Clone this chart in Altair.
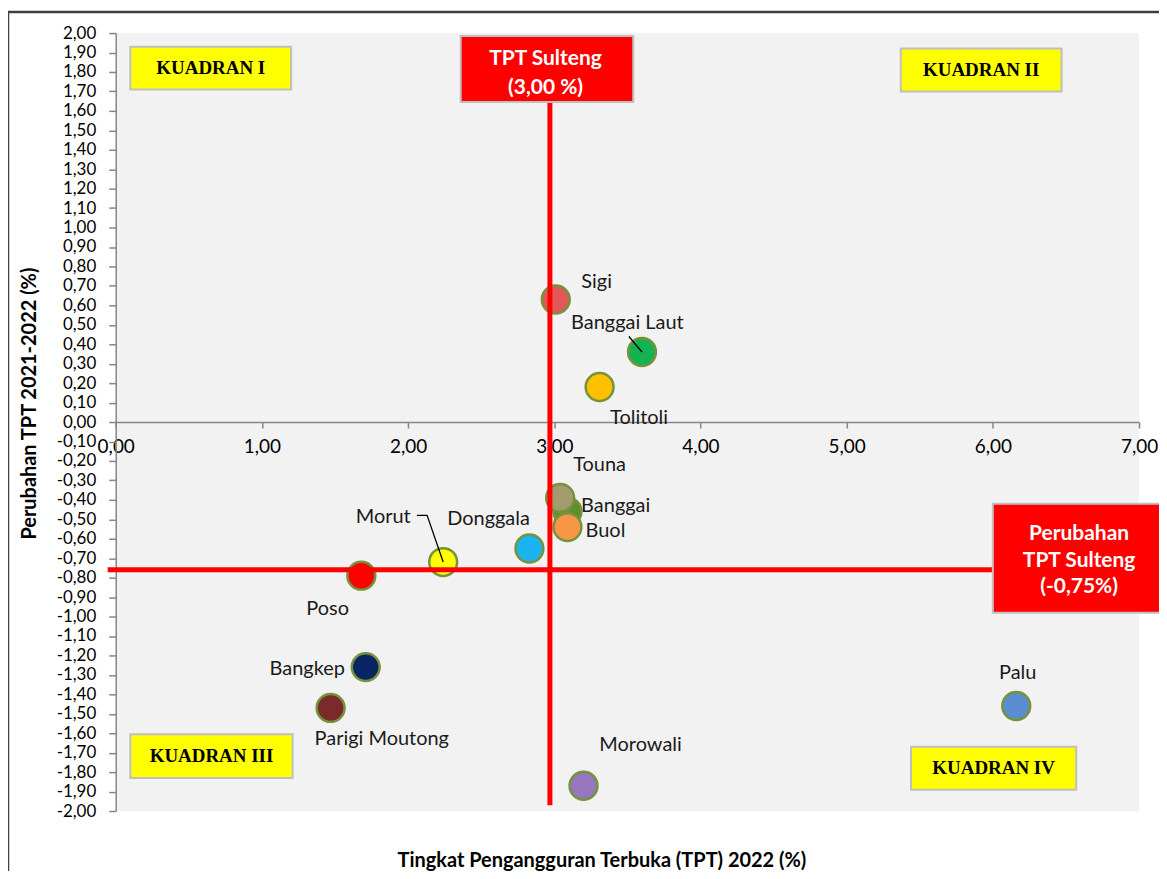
import altair as alt
import pandas as pd

# ---- data ----
names = ["Banggai", "Sigi", "Banggai Laut", "Tolitoli", "Touna", "Buol", "Donggala",
         "Morut", "Poso", "Bangkep", "Parigi Moutong", "Morowali", "Palu"]
tpt_2022 = [3.09, 3.01, 3.60, 3.31, 3.04, 3.09, 2.83, 2.24, 1.68, 1.71, 1.47, 3.20, 6.16]
change = [-0.46, 0.63, 0.36, 0.18, -0.39, -0.54, -0.65, -0.72, -0.79, -1.26, -1.47, -1.87, -1.46]
colors = ["#5F8F2C", "#E25858", "#14B250", "#FFC000", "#A39A6E", "#F79646", "#1CB4F0",
          "#FFFF00", "#FF0000", "#0A2563", "#7A2A2A", "#9677BE", "#5A8ED0"]

# label anchors (data units)
label_x = [3.42, 3.29, 3.50, 3.58, 3.31, 3.35, 2.55, 1.83, 1.45, 1.31, 1.82, 3.59, 6.17]
label_y = [-0.43, 0.72, 0.51, 0.02, -0.22, -0.56, -0.50, -0.49, -0.96, -1.27, -1.63, -1.66, -1.29]

# reference lines
tpt_sulteng = 2.97
chg_sulteng = -0.76

# quadrant boxes
quad_text = ["KUADRAN I", "KUADRAN II", "KUADRAN III", "KUADRAN IV"]
quad_x1 = [0.10, 5.37, 0.10, 5.44]
quad_x2 = [1.20, 6.47, 1.21, 6.57]
quad_y1 = [1.93, 1.92, -1.605, -1.67]
quad_y2 = [1.71, 1.70, -1.83, -1.89]

# red annotation boxes
red_x1 = [2.36, 6.00]
red_x2 = [3.54, 7.20]
red_y1 = [1.985, -0.42]
red_y2 = [1.645, -0.98]
red_lines = ["TPT Sulteng", "(3,00 %)", "Perubahan", "TPT Sulteng", "(-0,75%)"]
red_lines_x = [2.94, 2.94, 6.59, 6.59, 6.59]
red_lines_y = [1.865, 1.715, -0.575, -0.715, -0.85]

# leader lines
leader_id = ["bl", "bl", "mo", "mo", "mo"]
leader_x = [3.51, 3.60, 2.06, 2.13, 2.24]
leader_y = [0.44, 0.36, -0.48, -0.48, -0.72]
leader_ord = [0, 1, 0, 1, 2]

x_ticks = [0, 1, 2, 3, 4, 5, 6, 7]
y_ticks = [round(i * 0.1, 1) for i in range(-20, 21)]

FONT = "Lato"
fmt = "(datum.value < -0.0001 ? '-' : '') + replace(format(abs(datum.value), '.2f'), '.', ',')"

xs = alt.Scale(domain=[0, 7], nice=False, zero=False)
ys = alt.Scale(domain=[-2, 2], nice=False, zero=False)

pts = pd.DataFrame({"name": names, "x": tpt_2022, "y": change, "c": colors,
                    "lx": label_x, "ly": label_y, "o": list(range(len(names)))})
quads = pd.DataFrame({"t": quad_text, "x1": quad_x1, "x2": quad_x2, "y1": quad_y1, "y2": quad_y2})
reds = pd.DataFrame({"x1": red_x1, "x2": red_x2, "y1": red_y1, "y2": red_y2})
redtxt = pd.DataFrame({"t": red_lines, "x": red_lines_x, "y": red_lines_y})
leaders = pd.DataFrame({"id": leader_id, "x": leader_x, "y": leader_y, "o": leader_ord})

x_axis = alt.Axis(values=x_ticks, labelExpr=fmt, offset=-390, tickSize=6, tickColor="#868686",
                  domainColor="#868686", domainWidth=1.5, tickWidth=1.5, grid=False,
                  labelFont=FONT, labelFontSize=19, labelColor="#000000", labelPadding=10,
                  labelFlush=False,
                  title="Tingkat Pengangguran Terbuka (TPT) 2022 (%)", titleFont=FONT,
                  titleFontSize=20, titleFontWeight="bold", titleColor="#000000",
                  titleX=487, titleY=440, titleAlign="center", titleBaseline="middle")
y_axis = alt.Axis(values=y_ticks, labelExpr=fmt, tickSize=7, tickColor="#868686",
                  domainColor="#868686", domainWidth=1.5, tickWidth=1.5, grid=False,
                  labelFont=FONT, labelFontSize=17, labelColor="#000000", labelPadding=13,
                  labelFlush=False, labelOverlap=False,
                  title="Perubahan TPT 2021-2022 (%)", titleFont=FONT, titleFontSize=20,
                  titleFontWeight="bold", titleColor="#000000", titleX=-86, titleY=371,
                  titleAngle=-90, titleAlign="center", titleBaseline="middle")


def X(f):
    return alt.X(f, scale=xs, axis=x_axis)


def Y(f):
    return alt.Y(f, scale=ys, axis=y_axis)


border = alt.Chart(pd.DataFrame({"a": [0]})).mark_rect(
    fill=None, stroke="#404040", strokeWidth=2.5, clip=False
).encode(x=alt.value(-108), x2=alt.value(1100), y=alt.value(-21), y2=alt.value(900))

quad_rect = alt.Chart(quads).mark_rect(fill="#FFFF00", stroke="#BFBFBF", strokeWidth=2).encode(
    x=X("x1:Q"), x2="x2:Q", y=Y("y1:Q"), y2="y2:Q")
quad_lbl = alt.Chart(quads).mark_text(font="Liberation Serif", fontWeight="bold", fontSize=19,
                                       color="#000000").encode(
    x=X("mx:Q"), y=Y("my:Q"), text="t:N"
).transform_calculate(mx="(datum.x1 + datum.x2) / 2", my="(datum.y1 + datum.y2) / 2")

vline = alt.Chart(pd.DataFrame({"x": [tpt_sulteng], "y": [1.645], "y2": [-1.97]})).mark_rule(
    color="#FF0000", strokeWidth=5).encode(x=X("x:Q"), y=Y("y:Q"), y2="y2:Q")
hline = alt.Chart(pd.DataFrame({"y": [chg_sulteng], "x": [-0.055], "x2": [6.0]})).mark_rule(
    color="#FF0000", strokeWidth=5, clip=False).encode(y=Y("y:Q"), x=X("x:Q"), x2="x2:Q")

red_rect = alt.Chart(reds).mark_rect(fill="#FF0000", stroke="#BFBFBF", strokeWidth=2,
                                     clip=False).encode(
    x=X("x1:Q"), x2="x2:Q", y=Y("y1:Q"), y2="y2:Q")
red_lbl = alt.Chart(redtxt).mark_text(font=FONT, fontWeight="bold", fontSize=21,
                                      color="#FFFFFF", clip=False).encode(
    x=X("x:Q"), y=Y("y:Q"), text="t:N")

lead = alt.Chart(leaders).mark_line(color="#000000", strokeWidth=1.3).encode(
    x=X("x:Q"), y=Y("y:Q"), detail="id:N", order="o:Q")

dots = alt.Chart(pts).mark_circle(size=780, opacity=1, stroke="#76923C", strokeWidth=2.5).encode(
    x=X("x:Q"), y=Y("y:Q"), color=alt.Color("c:N", scale=None), order="o:Q")
lbls = alt.Chart(pts).mark_text(font=FONT, fontSize=20, color="#1A1A1A").encode(
    x=X("lx:Q"), y=Y("ly:Q"), text="name:N")

chart = alt.layer(
    quad_rect, quad_lbl, dots, lead, vline, hline, red_rect, red_lbl, lbls, border
).properties(
    width=1026, height=780,
    padding={"left": 108, "top": 24, "right": 20, "bottom": 59},
    autosize=alt.AutoSizeParams(type="none"),
    background="#FFFFFF",
).configure_view(fill="#F2F2F2", stroke=None)

chart.save("out.html", embed_options={"renderer": "svg", "actions": False})
